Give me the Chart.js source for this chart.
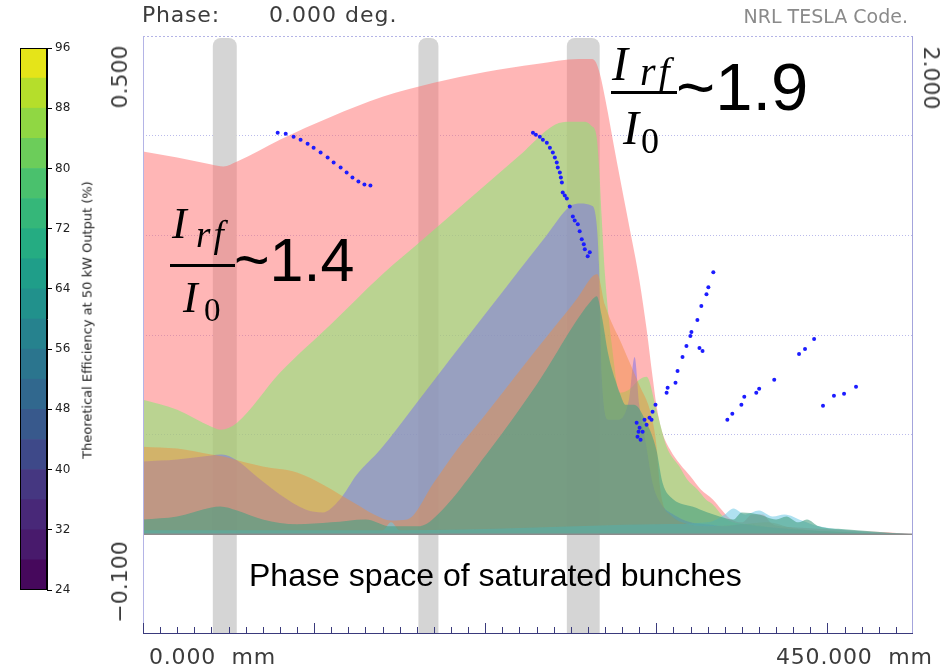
<!DOCTYPE html>
<html>
<head>
<meta charset="utf-8">
<script src="https://cdn.jsdelivr.net/npm/chart.js@4.4.1/dist/chart.umd.min.js"></script>
<style>
  body { margin: 0; background: #fff; }
  #wrap { position: relative; width: 943px; height: 669px; overflow: hidden; }
  canvas { position: absolute; left: 0; top: 0; }
  .t { position: absolute; white-space: pre; line-height: 1; }
  .ax { font-family: "DejaVu Sans"; font-size: 22px; color: #3c3c3c; }
  .rotl { transform: translate(-50%, -50%) rotate(-90deg); }
  .rotr { transform: translate(-50%, -50%) rotate(90deg); }
  .it { font-family: "Liberation Serif"; font-style: italic; color: #000; }
  .up { font-family: "Liberation Serif"; color: #000; }
  .big { font-family: "Liberation Sans"; color: #000; }
  .bar { position: absolute; background: #000; }
</style>
</head>
<body>
<div id="wrap">
  <canvas id="main" width="943" height="669"></canvas>
  <canvas id="cbar" width="140" height="669"></canvas>

  <div class="t ax" style="left:142px; top:4px; letter-spacing:0.8px;">Phase:</div>
  <div class="t ax" style="left:269px; top:4px; letter-spacing:1px;">0.000 deg.</div>
  <div class="t ax" style="right:35px; top:7px; font-size:19px; color:#8a8a8a;">NRL TESLA Code.</div>

  <div class="t ax rotl" style="left:120px; top:77px;">0.500</div>
  <div class="t ax rotl" style="left:120px; top:582px;">−0.100</div>
  <div class="t ax rotr" style="left:931px; top:78px;">2.000</div>
  <div class="t ax" style="left:149px; top:646px; letter-spacing:0.8px;">0.000  mm</div>
  <div class="t ax" style="left:776px; top:646px; letter-spacing:0.8px;">450.000  mm</div>

  <div class="t" style="left:87px; top:320px; font-family:'DejaVu Sans'; font-size:13px; color:#222; transform:translate(-50%,-50%) rotate(-90deg);">Theoretical Efficiency at 50 kW Output (%)</div>

  <!-- I_rf / I_0 ~1.4 -->
  <div class="t it" style="left:172px; top:202px; font-size:44px;">I</div>
  <div class="t it" style="left:196px; top:216px; font-size:37px; letter-spacing:3px;">rf</div>
  <div class="bar" style="left:170px; top:264px; width:65px; height:3px;"></div>
  <div class="t it" style="left:183px; top:276px; font-size:44px;">I</div>
  <div class="t up" style="left:204px; top:294px; font-size:33px;">0</div>
  <div class="t big" style="left:234px; top:230px; font-size:61px;">~1.4</div>

  <!-- I_rf / I_0 ~1.9 -->
  <div class="t it" style="left:612px; top:40px; font-size:48px;">I</div>
  <div class="t it" style="left:640px; top:52px; font-size:40px; letter-spacing:3px;">rf</div>
  <div class="bar" style="left:611px; top:91px; width:66px; height:3px;"></div>
  <div class="t it" style="left:623px; top:104px; font-size:48px;">I</div>
  <div class="t up" style="left:641px; top:123px; font-size:36px;">0</div>
  <div class="t big" style="left:676px; top:53px; font-size:67px;">~1.9</div>

  <div class="t big" style="left:249px; top:559px; font-size:32px;">Phase space of saturated bunches</div>
</div>

<script>
// axis ranges (mm along the circuit, left axis units)
const xRange = [0, 450];
const yRange = [-0.1, 0.5];

// harmonic current envelopes, one per drive level
const pinkX = [0, 20, 40, 47, 55, 80, 110, 140, 170, 200, 230, 255, 262, 264.6, 267, 270, 277, 284.5, 290, 294.3, 297.8, 300, 303, 308, 314, 320, 326, 333, 338, 343, 350, 356, 362, 368, 380, 400, 420, 435, 450];
const pinkY = [0.384, 0.378, 0.371, 0.369, 0.374, 0.396, 0.419, 0.439, 0.453, 0.464, 0.472, 0.477, 0.477, 0.474, 0.462, 0.438, 0.373, 0.306, 0.256, 0.206, 0.158, 0.13, 0.105, 0.085, 0.07, 0.058, 0.045, 0.035, 0.025, 0.016, 0.012, 0.02, 0.02, 0.01, 0.007, 0.005, 0.003, 0.002, 0];

const greenX = [0, 20, 40, 45.5, 55, 80, 110, 138.7, 165, 191, 220, 240.7, 250, 258, 262, 265, 266.5, 268, 270, 274, 278.6, 284, 290, 294.3, 300, 306, 313.5, 318, 324, 329, 333, 339, 345, 355, 370, 400, 430, 450];
const greenY = [0.135, 0.125, 0.108, 0.105, 0.112, 0.162, 0.211, 0.259, 0.298, 0.337, 0.38, 0.411, 0.414, 0.414, 0.41, 0.40, 0.37, 0.32, 0.26, 0.19, 0.142, 0.145, 0.155, 0.158, 0.125, 0.088, 0.068, 0.055, 0.045, 0.035, 0.03, 0.018, 0.012, 0.01, 0.006, 0.003, 0.001, 0];

const purpleX = [0, 20, 40, 46, 55, 65, 80, 95, 105, 115, 125, 138.7, 160, 180, 200, 220.3, 235, 249.4, 256, 262, 264.5, 266.5, 268, 272, 278, 284, 287.3, 290, 294, 298, 303, 310, 320, 330, 340, 350, 360, 380, 410, 450];
const purpleY = [0.073, 0.075, 0.079, 0.080, 0.074, 0.06, 0.04, 0.025, 0.022, 0.035, 0.06, 0.085, 0.132, 0.177, 0.221, 0.266, 0.298, 0.329, 0.332, 0.330, 0.32, 0.27, 0.16, 0.115, 0.115, 0.135, 0.178, 0.13, 0.09, 0.05, 0.03, 0.02, 0.012, 0.01, 0.008, 0.01, 0.008, 0.005, 0.002, 0];

const orangeX = [0, 20, 40, 47, 60, 70, 90, 105, 115, 125, 135, 145, 154.4, 170, 183.6, 200, 220, 240, 253.5, 262.8, 265.5, 270, 280, 290, 297, 300, 302, 304, 308, 315, 330, 350, 365, 380, 410, 450];
const orangeY = [0.088, 0.086, 0.080, 0.078, 0.072, 0.068, 0.062, 0.05, 0.04, 0.03, 0.02, 0.014, 0.015, 0.052, 0.085, 0.120, 0.164, 0.207, 0.236, 0.259, 0.261, 0.23, 0.19, 0.15, 0.12, 0.09, 0.05, 0.03, 0.02, 0.012, 0.008, 0.01, 0.012, 0.006, 0.002, 0];

const tealX = [0, 20, 40, 45, 55, 70, 90, 110, 130, 145, 160, 167.8, 202.8, 230, 262.8, 265.2, 268, 272, 276, 278.6, 282, 287, 294.3, 300, 303.6, 310, 316, 321, 330, 337, 345, 350, 360, 370, 376, 383, 388, 395, 410, 425, 440, 450];
const tealY = [0.015, 0.018, 0.027, 0.028, 0.024, 0.015, 0.010, 0.012, 0.015, 0.008, 0.008, 0.013, 0.085, 0.15, 0.236, 0.239, 0.22, 0.18, 0.155, 0.142, 0.13, 0.13, 0.112, 0.085, 0.052, 0.035, 0.03, 0.028, 0.022, 0.018, 0.015, 0.022, 0.02, 0.015, 0.018, 0.012, 0.015, 0.008, 0.005, 0.003, 0.001, 0];

const cyanX = [0, 140, 145, 150, 300, 330, 340, 345, 352, 360, 368, 375, 385, 395, 420, 450];
const cyanY = [0.004, 0.004, 0.012, 0.004, 0.01, 0.012, 0.02, 0.026, 0.02, 0.024, 0.018, 0.02, 0.014, 0.008, 0.003, 0];

// phase space of the saturated bunches
const bunchX = [78.7, 83.4, 88.0, 92.1, 96.2, 99.7, 103.8, 107.9, 111.4, 115.5, 119.0, 122.4, 125.9, 129.4, 132.9,
  227.9, 229.6, 231.9, 233.7, 236.0, 237.8, 239.5, 240.7, 241.8, 242.4, 243.6, 244.2, 244.8, 245.3, 246.5, 247.7, 249.4, 251.2, 252.3, 254.1, 255.2, 256.4, 257.6, 258.2, 259.9, 261.1,
  288.5, 290.2, 292.0, 289.0, 293.1, 296.0, 297.8, 299.5, 294.3, 290.8, 289.6, 297.2,
  306.0, 306.6, 311.2, 312.4, 315.3, 317.6, 319.9, 320.5, 324.0, 326.3, 329.3, 330.4, 333.3, 325.2, 327.0,
  341.5, 344.4, 349.7, 351.4, 358.4, 360.1, 368.9, 383.4, 386.9, 392.2,
  397.4, 403.8, 409.7, 416.7];
const bunchY = [0.403, 0.402, 0.399, 0.396, 0.392, 0.388, 0.383, 0.378, 0.373, 0.368, 0.363, 0.358, 0.354, 0.351, 0.350,
  0.403, 0.401, 0.399, 0.396, 0.393, 0.388, 0.383, 0.378, 0.373, 0.368, 0.363, 0.358, 0.353, 0.343, 0.340, 0.337, 0.329, 0.319, 0.315, 0.311, 0.304, 0.296, 0.291, 0.286, 0.279, 0.283,
  0.112, 0.107, 0.103, 0.098, 0.115, 0.117, 0.123, 0.130, 0.110, 0.095, 0.103, 0.115,
  0.142, 0.147, 0.152, 0.164, 0.178, 0.189, 0.199, 0.203, 0.215, 0.229, 0.241, 0.248, 0.263, 0.187, 0.184,
  0.115, 0.121, 0.130, 0.138, 0.142, 0.146, 0.155, 0.181, 0.186, 0.196,
  0.129, 0.139, 0.141, 0.148];

// cavity gaps (mm)
const gapCenter = [47.8, 166.8, 257.3];
const gapWidth = [14, 11.7, 19.2];

// colour bar
const cbarEdges = [24, 28, 32, 36, 40, 44, 48, 52, 56, 60, 64, 68, 72, 76, 80, 84, 88, 92, 96];
const cbarColors = ['#46085c', '#481a6c', '#482878', '#453781', '#3e4989', '#38598c', '#31688e', '#2b758e', '#26828e',
  '#21918c', '#1f9e89', '#25ac82', '#35b779', '#4ac16d', '#6ccd5a', '#90d743', '#b5de2b', '#e5e419'];

const pts = (xs, ys) => xs.map((x, i) => ({ x, y: ys[i] }));
const area = (xs, ys, color) => ({
  type: 'line',
  data: pts(xs, ys),
  fill: 'origin',
  backgroundColor: color,
  borderColor: 'rgba(0,0,0,0)',
  borderWidth: 0,
  pointRadius: 0,
  cubicInterpolationMode: 'monotone',
});

const gapsPlugin = {
  id: 'gaps',
  beforeDatasetsDraw(chart) {
    const { ctx, scales: { x, y } } = chart;
    const top = y.getPixelForValue(yRange[1]) + 2;
    const bot = y.getPixelForValue(yRange[0]);
    ctx.save();
    ctx.fillStyle = '#d5d5d5';
    gapCenter.forEach((c, i) => {
      const l = x.getPixelForValue(c - gapWidth[i] / 2);
      const r = x.getPixelForValue(c + gapWidth[i] / 2);
      const rad = Math.min(8, (r - l) / 2);
      ctx.beginPath();
      ctx.roundRect(l, top, r - l, bot - top, [rad, rad, 0, 0]);
      ctx.fill();
    });
    ctx.restore();
  }
};

const framePlugin = {
  id: 'frame',
  afterDatasetsDraw(chart) {
    const { ctx, chartArea: a, scales: { x, y } } = chart;
    const seg = (x1, y1, x2, y2) => { ctx.beginPath(); ctx.moveTo(x1, y1); ctx.lineTo(x2, y2); ctx.stroke(); };
    ctx.save();
    const y0 = y.getPixelForValue(0);
    ctx.strokeStyle = '#8c8c8c';
    ctx.lineWidth = 1.5;
    seg(a.left, y0, a.right, y0);

    ctx.lineWidth = 1;
    ctx.strokeStyle = '#b4b4e6';
    ctx.setLineDash([2, 2]);
    seg(a.left, a.top + 0.5, a.right, a.top + 0.5);
    ctx.setLineDash([]);
    seg(a.left + 0.5, a.top, a.left + 0.5, a.bottom);
    ctx.strokeStyle = '#a4a4dc';
    seg(a.right - 0.5, a.top, a.right - 0.5, a.bottom);

    ctx.strokeStyle = '#3a3a7c';
    seg(a.left, a.bottom - 0.5, a.right, a.bottom - 0.5);
    x.ticks.forEach(t => {
      if (t.value >= xRange[1]) return;
      const px = Math.round(x.getPixelForValue(t.value)) + 0.5;
      const len = t.value % 100 === 0 ? 11 : 7;
      seg(px, a.bottom, px, a.bottom - len);
    });
    ctx.restore();
  }
};

new Chart(document.getElementById('main'), {
  type: 'line',
  data: {
    datasets: [
      {
        type: 'scatter',
        data: pts(bunchX, bunchY),
        backgroundColor: '#1c1cff',
        borderWidth: 0,
        pointRadius: 2,
      },
      area(tealX, tealY, 'rgba(70,160,130,0.6)'),
      area(cyanX, cyanY, 'rgba(110,200,230,0.55)'),
      area(orangeX, orangeY, 'rgba(240,140,60,0.45)'),
      area(purpleX, purpleY, 'rgba(120,110,240,0.5)'),
      area(greenX, greenY, 'rgba(140,230,120,0.6)'),
      area(pinkX, pinkY, 'rgba(255,110,110,0.5)'),
    ]
  },
  options: {
    responsive: false,
    animation: false,
    devicePixelRatio: 1,
    events: [],
    layout: { padding: { left: 143, top: 36, right: 30, bottom: 35 } },
    plugins: { legend: { display: false }, tooltip: { enabled: false } },
    scales: {
      x: {
        type: 'linear', min: xRange[0], max: xRange[1],
        afterFit: s => { s.height = 0; },
        ticks: { display: false, stepSize: 10 },
        grid: { display: false },
        border: { display: false },
      },
      y: {
        type: 'linear', min: yRange[0], max: yRange[1],
        afterFit: s => { s.width = 0; },
        ticks: { display: false, stepSize: 0.1 },
        grid: {
          drawTicks: false,
          color: c => (c.tick.value > 0.05 && c.tick.value < 0.45) ? 'rgba(170,170,230,0.8)' : 'rgba(0,0,0,0)',
        },
        border: { display: false, dash: [1, 2] },
      }
    }
  },
  plugins: [gapsPlugin, framePlugin]
});

const cbarFrame = {
  id: 'cbarFrame',
  afterDatasetsDraw(chart) {
    const { ctx, chartArea: a } = chart;
    ctx.save();
    ctx.strokeStyle = '#000';
    ctx.lineWidth = 1;
    ctx.strokeRect(a.left + 0.5, a.top + 0.5, a.width - 1, a.height - 1);
    ctx.restore();
  }
};

new Chart(document.getElementById('cbar'), {
  type: 'bar',
  data: {
    labels: [''],
    datasets: cbarColors.map((c, i) => ({
      data: [[cbarEdges[i], cbarEdges[i + 1]]],
      backgroundColor: c,
      borderWidth: 0,
      grouped: false,
      barPercentage: 1,
      categoryPercentage: 1,
    }))
  },
  options: {
    responsive: false,
    animation: false,
    devicePixelRatio: 1,
    events: [],
    layout: { padding: { left: 20, top: 48, bottom: 79, right: 0 } },
    plugins: { legend: { display: false }, tooltip: { enabled: false } },
    scales: {
      x: { display: false },
      y: {
        position: 'right', min: 24, max: 96,
        afterFit: s => { s.width = 93; },
        ticks: { stepSize: 8, color: '#222', padding: 3, font: { family: 'DejaVu Sans', size: 12 } },
        grid: { drawOnChartArea: false, color: '#000', tickLength: 5 },
        border: { color: '#000' },
      }
    }
  },
  plugins: [cbarFrame]
});
</script>
</body>
</html>
